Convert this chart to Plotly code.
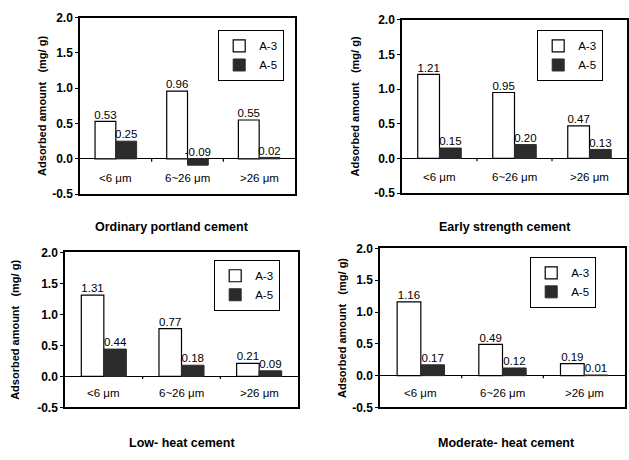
import plotly.graph_objects as go

categories = ["<6 μm", "6~26 μm", ">26 μm"]
series_names = ["A-3", "A-5"]
panel_titles = ["Ordinary portland cement", "Early strength cement",
                "Low- heat cement", "Moderate- heat cement"]

ordinary_a3 = [0.53, 0.96, 0.55]
ordinary_a5 = [0.25, -0.09, 0.02]
early_a3 = [1.21, 0.95, 0.47]
early_a5 = [0.15, 0.20, 0.13]
lowheat_a3 = [1.31, 0.77, 0.21]
lowheat_a5 = [0.44, 0.18, 0.09]
moderate_a3 = [1.16, 0.49, 0.19]
moderate_a5 = [0.17, 0.12, 0.01]

y_ticks = [-0.5, 0.0, 0.5, 1.0, 1.5, 2.0]
y_tick_text = ["-0.5", "0.0", "0.5", "1.0", "1.5", "2.0"]

panels_data = [(ordinary_a3, ordinary_a5), (early_a3, early_a5),
               (lowheat_a3, lowheat_a5), (moderate_a3, moderate_a5)]

W, H = 629, 460
# plot boxes in pixels: left, right, top, bottom
boxes = [(80, 295, 11, 193), (402, 627, 13, 192), (65, 298, 253, 413), (380, 625, 249, 413)]
ytitle_px = [42, 355, 15, 342]
title_pos = [(172, 227), (505, 227), (182, 450), (506, 450)]
legend_pos = [(284, 24), (603, 24), (280, 261), (596, 258)]

FONT = "Liberation Sans, Arial, sans-serif"
bar_w = 0.29
dark = "#2b2b2b"
nb = "\u00a0"

fig = go.Figure()
annotations = []
shapes = []

for p, (a3, a5) in enumerate(panels_data):
    idx = "" if p == 0 else str(p + 1)
    xa, ya = "x" + idx, "y" + idx
    leg = "legend" if p == 0 else "legend" + str(p + 1)
    xs = list(range(len(categories)))
    x3 = [i - bar_w / 2 for i in xs]
    x5 = [i + bar_w / 2 for i in xs]
    fig.add_trace(go.Bar(x=x3, y=a3, width=bar_w, name=series_names[0],
                         marker=dict(color="white", line=dict(color="black", width=1.2)),
                         xaxis=xa, yaxis=ya, legend=leg, showlegend=True))
    fig.add_trace(go.Bar(x=x5, y=a5, width=bar_w, name=series_names[1],
                         marker=dict(color=dark, line=dict(color=dark, width=1)),
                         xaxis=xa, yaxis=ya, legend=leg, showlegend=True))
    fig.add_trace(go.Scatter(x=x3 + x5, y=[max(v, 0) for v in a3 + a5],
                             text=[f"{v:.2f}" for v in a3 + a5],
                             mode="text", textposition="top center",
                             textfont=dict(family=FONT, size=11.5, color="black"),
                             xaxis=xa, yaxis=ya, showlegend=False, hoverinfo="skip"))
    l, r, t, b = boxes[p]
    fig.layout[("xaxis" + idx)] = dict(
        domain=[l / W, r / W], range=[-0.5, len(categories) - 0.5], anchor=ya,
        showticklabels=False, showgrid=False, zeroline=False, ticks="",
        showline=True, linecolor="black", linewidth=1.5, mirror=True, fixedrange=True)
    fig.layout[("yaxis" + idx)] = dict(
        domain=[1 - b / H, 1 - t / H], range=[-0.5, 2.0], anchor=xa,
        tickvals=y_ticks, ticktext=y_tick_text, ticks="outside", ticklen=3,
        tickcolor="black", tickfont=dict(family=FONT, size=12, color="black", weight="bold"),
        showgrid=False, zeroline=True, zerolinecolor="black", zerolinewidth=1.2,
        showline=True, linecolor="black", linewidth=1.5, mirror=True, fixedrange=True)
    # category labels inside the plot below the zero line
    for i, c in enumerate(categories):
        annotations.append(dict(x=i, y=-0.27, xref=xa, yref=ya, text=c, showarrow=False,
                                font=dict(family=FONT, size=11.5, color="black")))
    # small ticks on zero line between categories
    for i in range(len(categories) - 1):
        shapes.append(dict(type="line", xref=xa, yref=ya, x0=i + 0.5, x1=i + 0.5,
                           y0=0, y1=-0.04, line=dict(color="black", width=1.2)))
    # y-axis title
    annotations.append(dict(x=ytitle_px[p] / W, y=1 - ((t + b) / 2) / H, xref="paper", yref="paper",
                            xanchor="center", yanchor="middle",
                            text="Adsorbed amount" + nb + nb + nb + "(mg/" + nb + "g)",
                            textangle=-90, showarrow=False,
                            font=dict(family=FONT, size=11, color="black", weight="bold")))
    # panel title
    tx, ty = title_pos[p]
    annotations.append(dict(x=tx / W, y=1 - ty / H, xref="paper", yref="paper",
                            xanchor="center", yanchor="middle",
                            text=panel_titles[p], showarrow=False,
                            font=dict(family=FONT, size=12.5, color="black", weight="bold")))
    lx, ly = legend_pos[p]
    fig.layout[leg] = dict(x=lx / W, y=1 - ly / H, xanchor="right", yanchor="top",
                           xref="paper", yref="paper",
                           bgcolor="white", bordercolor="black", borderwidth=1.2,
                           font=dict(family=FONT, size=11.5, color="black"),
                           itemwidth=30, tracegroupgap=0, traceorder="normal")

fig.update_layout(width=W, height=H, margin=dict(l=0, r=0, t=0, b=0),
                  paper_bgcolor="white", plot_bgcolor="white",
                  barmode="overlay", annotations=annotations, shapes=shapes,
                  font=dict(family=FONT, color="black"))

fig.write_html("out.html")
